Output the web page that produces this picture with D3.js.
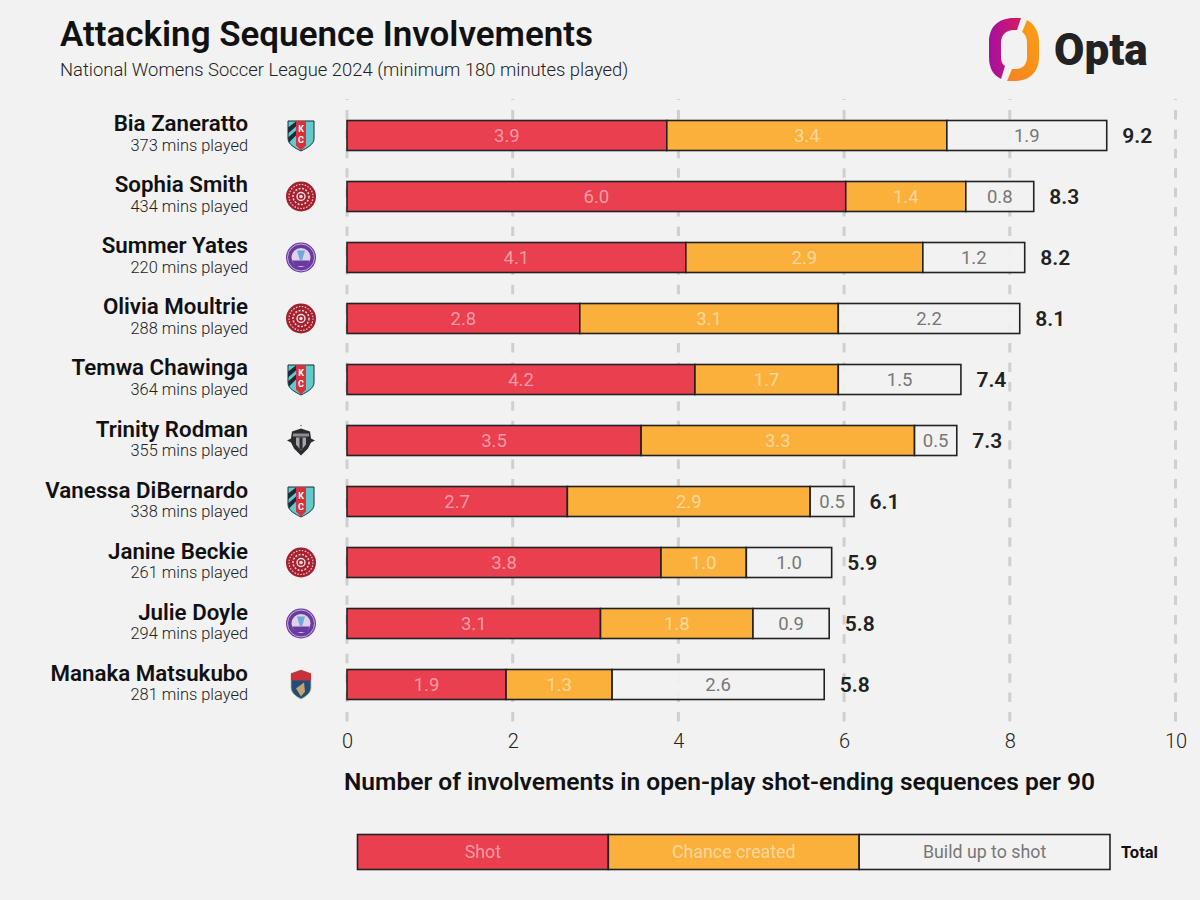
<!DOCTYPE html>
<html><head><meta charset="utf-8">
<script src="https://cdn.jsdelivr.net/npm/d3@7/dist/d3.min.js"></script>
<style>html,body{margin:0;padding:0;background:#f2f2f2}svg{display:block}text{font-family:Roboto,sans-serif}</style>
</head><body><svg id="c" width="1200" height="900"></svg>
<script>
const players=["Bia Zaneratto","Sophia Smith","Summer Yates","Olivia Moultrie","Temwa Chawinga","Trinity Rodman","Vanessa DiBernardo","Janine Beckie","Julie Doyle","Manaka Matsukubo"];
const minutes=[373,434,220,288,364,355,338,261,294,281];
const clubs=["kc","por","orl","por","kc","was","kc","por","orl","nc"];
const shot=[3.86,6.02,4.09,2.81,4.20,3.55,2.66,3.79,3.06,1.92];
const chance=[3.38,1.449,2.86,3.12,1.73,3.30,2.93,1.03,1.84,1.28];
const buildUp=[1.93,0.82,1.23,2.19,1.48,0.51,0.53,1.03,0.92,2.56];
const totals=[9.2,8.3,8.2,8.1,7.4,7.3,6.1,5.9,5.8,5.8];
const xTicks=[0,2,4,6,8,10];
const legendLabels=["Shot","Chance created","Build up to shot"];

const svg=d3.select("#c");
const x=d3.scaleLinear().domain([0,10]).range([347,1175.5]);
const y=d3.scaleBand().domain(players).range([105,715]).paddingInner(0.5082).paddingOuter(0.254);
const cols=["#e93f4e","#fbb03b","#f2f2f2"];
const txt=["#f59aa3","#fdd79b","#777777"];
const stroke="#222222";

svg.append("text").attr("x",60).attr("y",46).attr("font-size",35.2).attr("font-weight",600).attr("fill","#111").attr("textLength",533).attr("lengthAdjust","spacingAndGlyphs").text("Attacking Sequence Involvements");
svg.append("text").attr("x",60).attr("y",76).attr("font-size",18.4).attr("font-weight",300).attr("fill","#222").text("National Womens Soccer League 2024 (minimum 180 minutes played)");

// gridlines + axis
const ax=d3.axisBottom(x).tickValues(xTicks).tickSize(0).tickPadding(0).tickFormat(d3.format("d"));
const axG=svg.append("g").attr("transform","translate(0,733)").call(ax);
axG.select(".domain").remove();
axG.selectAll("text").attr("font-size",20).attr("font-weight",300).attr("fill","#222").attr("dy",0).attr("y",15);
svg.append("g").selectAll("line").data(xTicks).join("line")
  .attr("x1",d=>x(d)).attr("x2",d=>x(d)).attr("y1",99).attr("y2",722)
  .attr("stroke","#cfcfcf").attr("stroke-width",3).attr("stroke-dasharray","9.5 9.92").attr("stroke-dashoffset",8.42);

// bars
const rows=players.map((p,i)=>({p,i,segs:[shot[i],chance[i],buildUp[i]]}));
const g=svg.append("g").selectAll("g").data(rows).join("g");
g.each(function(r){
  const sel=d3.select(this);let c=0;
  r.segs.forEach((v,k)=>{
    sel.append("rect").attr("x",x(c)).attr("y",y(r.p)).attr("width",x(c+v)-x(c)).attr("height",y.bandwidth())
      .attr("fill",cols[k]).attr("fill-opacity",k==2?0.9:1).attr("stroke",stroke).attr("stroke-width",1.6);
    sel.append("text").attr("x",x(c+v/2)).attr("y",y(r.p)+y.bandwidth()/2+6.5).attr("text-anchor","middle")
      .attr("font-size",18.5).attr("fill",txt[k]).text(v.toFixed(1));
    c+=v;
  });
  sel.append("text").attr("x",x(c)+15.5).attr("y",y(r.p)+y.bandwidth()/2+7.5).attr("font-size",21).attr("font-weight",600).attr("fill","#222").text(totals[r.i].toFixed(1));
  const cy=y(r.p)+y.bandwidth()/2;
  sel.append("text").attr("x",248).attr("y",cy-4).attr("text-anchor","end").attr("font-size",22.3).attr("font-weight",600).attr("fill","#111").text(r.p);
  sel.append("text").attr("x",248).attr("y",cy+15.5).attr("text-anchor","end").attr("font-size",16.4).attr("font-weight",300).attr("fill","#222").text(minutes[r.i]+" mins played");
  drawCrest(sel.append("g").attr("transform",`translate(301,${cy})`),clubs[r.i]);
});

function drawCrest(s,c){
  if(c==="kc"){
    const sh="M-13,-14.5H13V3C13,9 6,12.5 0,15.5C-6,12.5 -13,9 -13,3Z";
    s.append("path").attr("d",sh).attr("fill","#62cbc9").attr("stroke","#1c2b39").attr("stroke-width",1);
    s.append("path").attr("d","M-13,-8L-5,-14V-9L-13,-2ZM-13,2L-5,-5V0L-12,7Z").attr("fill","#1c2b39");
    s.append("path").attr("d","M-5,-14.5H5V10L0,15L-5,10Z").attr("fill","#d9303e");
    s.append("text").attr("text-anchor","middle").attr("y",-3).attr("font-size",9).attr("font-weight",700).attr("fill","#fff").text("K");
    s.append("text").attr("text-anchor","middle").attr("y",8).attr("font-size",9).attr("font-weight",700).attr("fill","#fff").text("C");
  } else if(c==="por"){
    s.append("circle").attr("r",15).attr("fill","#a3202f");
    s.append("circle").attr("r",12).attr("fill","none").attr("stroke","#e9c4c4").attr("stroke-width",1.2).attr("stroke-dasharray","1.5 1.5");
    s.append("circle").attr("r",8).attr("fill","none").attr("stroke","#e9c4c4").attr("stroke-width",1.6).attr("stroke-dasharray","2 1.5");
    s.append("circle").attr("r",4).attr("fill","none").attr("stroke","#f2dede").attr("stroke-width",1.4);
    s.append("circle").attr("r",1.8).attr("fill","#f2dede");
  } else if(c==="orl"){
    s.append("circle").attr("r",15).attr("fill","#6a3b9f");
    s.append("circle").attr("r",13.5).attr("fill","none").attr("stroke","#d9cdea").attr("stroke-width",.8);
    s.append("circle").attr("r",9.5).attr("fill","#ddd2ea");
    s.append("path").attr("d","M-9,3H9L6,8.5H-6Z").attr("fill","#6a3b9f");
    s.append("path").attr("d","M-4,-7H4L1,3H-1Z").attr("fill","#6fa8dc");
  } else if(c==="was"){
    s.append("path").attr("d","M-9,-9L0,-12L9,-9L10,-2L14,0L10,2L7,8L0,15L-7,8L-10,2L-14,0L-10,-2Z").attr("fill","#2b2b2f");
    s.append("path").attr("d","M-8,-7H8V-4H-8Z").attr("fill","#8d8d92");
    s.append("path").attr("d","M-5,-3H5V4L0,10L-5,4Z").attr("fill","#a5a5a9");
    s.append("path").attr("d","M-1.5,-3H1.5V9H-1.5Z").attr("fill","#2b2b2f");
    s.append("circle").attr("cy",-15).attr("r",.8).attr("fill","#777");
  } else {
    s.append("path").attr("d","M0,-14.5L10,-11V3C10,9 4,12.5 0,14.5C-4,12.5 -10,9 -10,3V-11Z").attr("fill","#1f4e79").attr("stroke","#c9b98f").attr("stroke-width",.8);
    s.append("path").attr("d","M-10,-11L0,-14.5L10,-11V-4H-10Z").attr("fill","#c8313c");
    s.append("path").attr("d","M-5,4L3,-2L4,7L0,12Z").attr("fill","#c9a26b");
  }
}

svg.append("text").attr("x",344).attr("y",790).attr("font-size",24.4).attr("font-weight",600).attr("fill","#111").attr("textLength",751).attr("lengthAdjust","spacingAndGlyphs").text("Number of involvements in open-play shot-ending sequences per 90");

// legend
const lx=d3.scaleLinear().domain([0,3]).range([357.5,1110]);
const lg=svg.append("g").selectAll("g").data(legendLabels).join("g");
lg.append("rect").attr("x",(d,i)=>lx(i)).attr("y",834.5).attr("width",(d,i)=>lx(i+1)-lx(i)).attr("height",35)
  .attr("fill",(d,i)=>cols[i]).attr("stroke",stroke).attr("stroke-width",1.6);
lg.append("text").attr("x",(d,i)=>lx(i+.5)).attr("y",858).attr("text-anchor","middle").attr("font-size",17.8).attr("fill",(d,i)=>txt[i]).text(d=>d);
svg.append("text").attr("x",1121).attr("y",858).attr("font-size",16.5).attr("font-weight",700).attr("fill","#111").text("Total");

// Opta logo
const defs=svg.append("defs");
const g1b=defs.append("linearGradient").attr("id","oL2").attr("x1",0).attr("x2",1).attr("y1",0).attr("y2",0);
g1b.append("stop").attr("offset",0).attr("stop-color","#a3109f");g1b.append("stop").attr("offset",1).attr("stop-color","#d81b60");
const g2=defs.append("linearGradient").attr("id","oR").attr("x1",1).attr("x2",0).attr("y1",0).attr("y2",1);
g2.append("stop").attr("offset",0).attr("stop-color","#fb9f14");g2.append("stop").attr("offset",1).attr("stop-color","#f58220");
const logo=svg.append("g");
logo.append("path").attr("d","M1021,18H1014C998,18 989,27 989,42V57C989,68 993,75 1001,79L1005,66C1002,64 1001,61 1001,56V43C1001,35 1006,30 1014,30H1017Z").attr("fill","url(#oL2)");
logo.append("path").attr("d","M1027,20C1034,24 1039,31 1039,42V57C1039,72 1030,81 1014,81H1007L1012,69H1016C1023,69 1027,64 1027,57V43C1027,37 1025,34 1022,32Z").attr("fill","url(#oR)");
svg.append("text").attr("x",1054).attr("y",65).attr("font-size",44).attr("font-weight",900).attr("fill","#222").text("Opta");
</script></body></html>
